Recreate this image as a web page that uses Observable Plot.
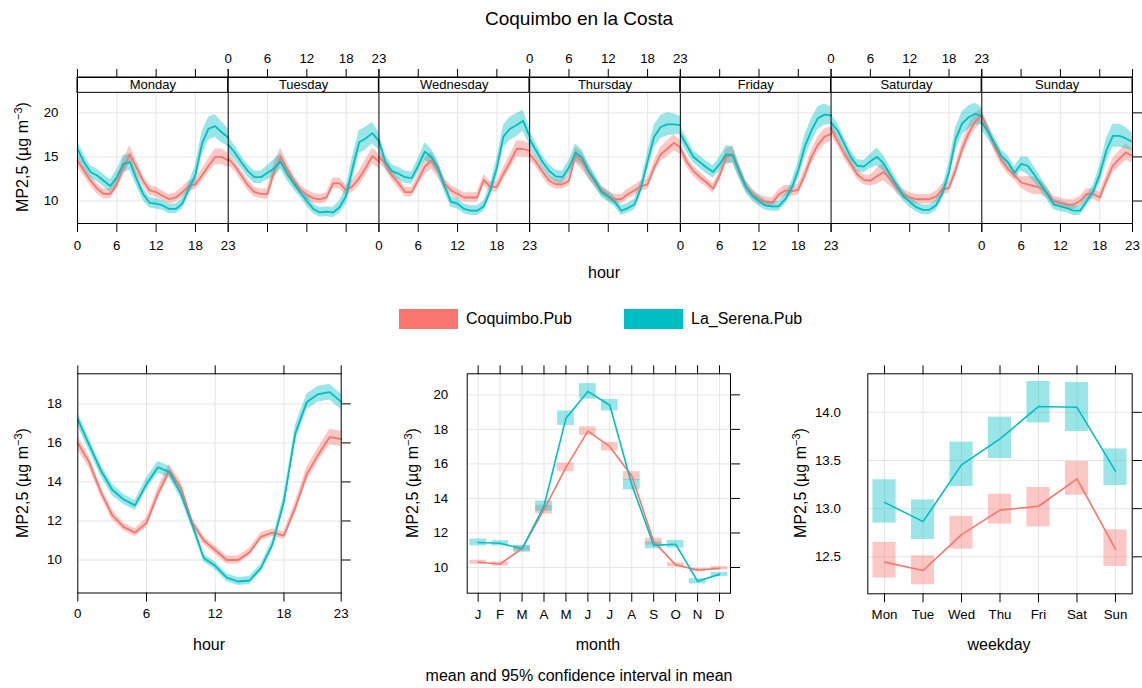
<!DOCTYPE html>
<html><head><meta charset="utf-8">
<script src="https://cdn.jsdelivr.net/npm/d3@7"></script>
<script src="https://cdn.jsdelivr.net/npm/@observablehq/plot@0.6"></script>
<style>
body{margin:0;background:#fff;font-family:"Liberation Sans",Arial,sans-serif;color:#000;}
#root{position:relative;width:1142px;height:688px;overflow:hidden;background:#fff;}
#root svg{position:absolute;}
.t{position:absolute;white-space:nowrap;transform:translate(-50%,-50%);line-height:1;}
.yl{position:absolute;white-space:nowrap;transform:translate(-50%,-50%) rotate(-90deg);font-size:16px;line-height:1;}
.yl sup{font-size:11px;vertical-align:6px;}
.sw{position:absolute;}
</style></head><body><div id="root"></div>
<script>
// ---------- categories / labels ----------
const series = ["Coquimbo.Pub", "La_Serena.Pub"];
const colors = ["#F8766D", "#00BFC4"];
const dayNames = ["Monday", "Tuesday", "Wednesday", "Thursday", "Friday", "Saturday", "Sunday"];
const hourTicks = [0, 6, 12, 18, 23];
const monthLabels = ["J", "F", "M", "A", "M", "J", "J", "A", "S", "O", "N", "D"];
const weekdayLabels = ["Mon", "Tue", "Wed", "Thu", "Fri", "Sat", "Sun"];

// ---------- weekday x hour means (hours 0..23) ----------
const coqMon = [14.6, 13.4, 12.3, 11.4, 10.8, 10.8, 11.9, 13.8, 15.3, 13.8, 12.3, 11.2, 11.0, 10.6, 10.2, 10.4, 11.0, 11.7, 11.9, 12.9, 14.0, 15.0, 15.0, 14.6];
const coqTue = [14.8, 14.0, 12.9, 11.8, 11.0, 10.8, 10.8, 13.4, 15.0, 13.6, 12.3, 11.3, 10.7, 10.3, 10.2, 10.4, 12.0, 12.0, 11.2, 11.7, 12.6, 13.8, 15.1, 14.5];
const coqWed = [15.0, 14.2, 12.9, 12.0, 11.0, 11.0, 12.4, 13.9, 14.6, 13.5, 12.0, 11.2, 10.8, 10.4, 10.4, 10.4, 12.4, 11.6, 11.6, 13.1, 14.4, 15.9, 15.9, 15.7];
const coqThu = [15.3, 14.4, 13.3, 12.3, 11.9, 11.9, 12.3, 15.2, 14.5, 13.3, 12.1, 11.2, 10.6, 10.2, 10.2, 10.8, 11.2, 11.7, 11.9, 13.8, 15.3, 15.9, 16.6, 16.1];
const coqFri = [16.0, 14.4, 13.4, 12.7, 12.1, 11.4, 12.9, 15.0, 15.3, 13.4, 11.7, 10.8, 10.2, 9.9, 9.8, 10.7, 11.2, 11.1, 11.3, 13.0, 15.0, 16.4, 17.3, 17.6];
const coqSat = [18.2, 16.8, 15.4, 14.2, 13.0, 12.4, 12.3, 12.8, 13.3, 12.5, 11.5, 10.8, 10.4, 10.2, 10.2, 10.2, 10.5, 11.3, 11.5, 13.5, 15.9, 17.7, 19.0, 19.7];
const coqSun = [19.7, 18.0, 16.1, 14.6, 13.6, 12.9, 12.1, 11.9, 11.7, 11.5, 10.9, 10.0, 9.8, 9.6, 9.6, 10.0, 10.8, 10.8, 10.4, 12.3, 14.0, 14.8, 15.5, 15.1];
const serMon = [15.9, 14.4, 13.3, 12.9, 12.3, 11.7, 12.7, 14.2, 14.4, 12.5, 10.8, 9.8, 9.7, 9.5, 9.1, 9.1, 9.7, 11.4, 13.0, 16.5, 18.2, 18.5, 17.8, 17.2];
const serTue = [16.4, 15.5, 14.4, 13.4, 12.7, 12.7, 13.2, 13.7, 14.5, 13.1, 12.0, 11.0, 10.0, 9.1, 8.7, 8.8, 8.7, 9.3, 10.6, 13.8, 16.7, 17.1, 17.7, 16.8];
const serWed = [16.8, 14.4, 13.4, 13.1, 12.7, 12.6, 14.0, 15.6, 15.0, 13.8, 11.7, 9.9, 9.7, 9.1, 8.9, 8.9, 9.4, 11.2, 13.8, 17.3, 18.2, 18.6, 19.1, 17.3];
const serThu = [17.0, 15.7, 14.4, 13.4, 12.8, 12.7, 13.8, 15.5, 14.9, 13.4, 12.3, 11.0, 10.5, 9.9, 8.9, 9.2, 9.6, 11.5, 14.5, 17.3, 18.4, 18.7, 18.7, 18.6];
const serFri = [17.6, 16.3, 15.0, 14.4, 13.8, 13.3, 14.2, 15.3, 15.2, 13.3, 11.6, 10.6, 10.0, 9.5, 9.4, 9.4, 10.2, 11.5, 13.5, 16.2, 18.0, 19.4, 19.8, 19.7];
const serSat = [18.9, 18.0, 16.5, 15.0, 14.0, 13.9, 14.5, 15.0, 14.3, 13.0, 11.8, 10.6, 9.9, 9.3, 9.0, 9.0, 9.5, 10.9, 13.3, 17.0, 18.8, 19.5, 19.9, 19.6];
const serSun = [18.9, 17.8, 16.5, 15.1, 14.4, 13.2, 14.2, 14.0, 13.0, 11.9, 10.8, 9.6, 9.4, 9.2, 8.9, 8.9, 10.0, 11.1, 13.0, 15.7, 17.4, 17.4, 17.1, 16.7];
// half width of 95% CI by hour (weekday x hour panel)
const coqDayHourCI = [0.7, 0.6, 0.6, 0.6, 0.55, 0.55, 0.6, 0.9, 1.0, 0.8, 0.6, 0.55, 0.55, 0.55, 0.55, 0.55, 0.6, 0.6, 0.6, 0.7, 0.8, 0.9, 0.9, 0.8];
const serDayHourCI = [0.9, 0.8, 0.7, 0.7, 0.7, 0.7, 0.8, 1.0, 0.9, 0.8, 0.7, 0.6, 0.6, 0.55, 0.55, 0.55, 0.6, 0.7, 1.0, 1.3, 1.3, 1.3, 1.2, 1.0];

// ---------- hour means ----------
const coqHour = [16.0, 15.0, 13.5, 12.3, 11.7, 11.4, 11.9, 13.4, 14.6, 13.7, 11.9, 11.0, 10.5, 10.0, 10.0, 10.4, 11.2, 11.4, 11.25, 12.7, 14.4, 15.4, 16.3, 16.2];
const serHour = [17.2, 15.9, 14.6, 13.6, 13.1, 12.8, 13.9, 14.75, 14.5, 13.4, 11.8, 10.1, 9.7, 9.1, 8.9, 8.95, 9.6, 10.8, 13.0, 16.5, 18.1, 18.5, 18.6, 18.1];
const coqHourCI = [0.35, 0.3, 0.25, 0.25, 0.2, 0.2, 0.25, 0.3, 0.3, 0.3, 0.25, 0.2, 0.2, 0.2, 0.2, 0.2, 0.2, 0.2, 0.2, 0.3, 0.35, 0.35, 0.4, 0.4];
const serHourCI = [0.35, 0.3, 0.3, 0.3, 0.25, 0.25, 0.3, 0.3, 0.3, 0.25, 0.2, 0.2, 0.2, 0.2, 0.2, 0.2, 0.2, 0.25, 0.35, 0.4, 0.4, 0.4, 0.4, 0.4];

// ---------- month means ----------
const coqMonth = [10.3, 10.2, 11.1, 13.35, 15.8, 17.9, 17.0, 15.3, 11.5, 10.15, 9.85, 9.95];
const serMonth = [11.45, 11.4, 11.08, 13.55, 18.65, 20.2, 19.4, 14.8, 11.28, 11.35, 9.2, 9.6];
const coqMonthCI = [0.12, 0.12, 0.15, 0.25, 0.25, 0.25, 0.25, 0.25, 0.2, 0.12, 0.1, 0.1];
const serMonthCI = [0.2, 0.15, 0.2, 0.3, 0.42, 0.45, 0.33, 0.3, 0.2, 0.22, 0.15, 0.12];

// ---------- weekday means ----------
const coqWeekday = [12.445, 12.358, 12.73, 12.985, 13.025, 13.31, 12.58];
const serWeekday = [13.065, 12.865, 13.455, 13.725, 14.06, 14.052, 13.39];
const coqWeekdayLo = [12.28, 12.21, 12.58, 12.84, 12.81, 13.14, 12.40];
const coqWeekdayHi = [12.65, 12.51, 12.92, 13.15, 13.22, 13.49, 12.78];
const serWeekdayLo = [12.85, 12.68, 13.23, 13.52, 13.89, 13.80, 13.24];
const serWeekdayHi = [13.30, 13.09, 13.69, 13.95, 14.32, 14.31, 13.62];

// ---------- build tables ----------
const FONT = '"Liberation Sans", Arial, sans-serif';
const GRID = "#e6e6e6";
const root = document.getElementById("root");
const colorScale = {domain: series, range: colors};
const baseStyle = {fontFamily: FONT, fontSize: "13.3px", background: "transparent", color: "black", overflow: "visible"};

const coqDays = [coqMon, coqTue, coqWed, coqThu, coqFri, coqSat, coqSun];
const serDays = [serMon, serTue, serWed, serThu, serFri, serSat, serSun];
const span = hourTicks[hourTicks.length - 1]; // 23 hours per day panel
const topRows = [];
[[coqDays, coqDayHourCI, series[0]], [serDays, serDayHourCI, series[1]]].forEach(([days, ci, s]) =>
  days.forEach((arr, d) => arr.forEach((v, h) =>
    topRows.push({series: s, key: s + d, pos: d * span + h, v, lo: v - ci[h], hi: v + ci[h]}))));

const hourRows = [];
[[coqHour, coqHourCI, series[0]], [serHour, serHourCI, series[1]]].forEach(([arr, ci, s]) =>
  arr.forEach((v, h) => hourRows.push({series: s, hour: h, v, lo: v - ci[h], hi: v + ci[h]})));

const monthRows = [];
[[coqMonth, coqMonthCI, series[0]], [serMonth, serMonthCI, series[1]]].forEach(([arr, ci, s]) =>
  arr.forEach((v, i) => monthRows.push({series: s, m: i + 1, v, lo: v - ci[i], hi: v + ci[i]})));

const wdRows = [];
[[coqWeekday, coqWeekdayLo, coqWeekdayHi, series[0]], [serWeekday, serWeekdayLo, serWeekdayHi, series[1]]].forEach(([arr, lo, hi, s]) =>
  arr.forEach((v, i) => wdRows.push({series: s, d: i + 1, v, lo: lo[i], hi: hi[i]})));

function place(svg, left, top) { svg.style.left = left + "px"; svg.style.top = top + "px"; root.appendChild(svg); }
const blank = () => "";

// ---------- top panel: weekday x hour ----------
{
  const yDom = [7.45, 24.01], stripBottom = 22.27;
  const botLab = new Map(), topLab = new Map(), botPlain = [], topPlain = [], gridPos = [];
  dayNames.forEach((_, d) => hourTicks.forEach(h => {
    const p = d * span + h;
    if (d % 2 === 0) { botLab.set(p, String(h)); topPlain.push(p); }
    else { topLab.set(p, String(h)); botPlain.push(p); }
    if (h !== 0 && h !== span) gridPos.push(p);
  }));
  const svg = Plot.plot({
    width: 1142, height: 260, marginLeft: 77, marginRight: 10, marginTop: 77, marginBottom: 37,
    x: {domain: [0, span * dayNames.length]}, y: {domain: yDom},
    color: colorScale, style: baseStyle,
    marks: [
      Plot.gridY([10, 15, 20], {stroke: GRID, strokeOpacity: 1}),
      Plot.ruleX(gridPos, {y1: yDom[0], y2: stripBottom, stroke: GRID, strokeOpacity: 1}),
      Plot.areaY(topRows, {x: "pos", y1: "lo", y2: "hi", z: "key", fill: "series", fillOpacity: 0.4}),
      Plot.lineY(topRows, {x: "pos", y: "v", z: "key", stroke: "series", strokeWidth: 1.8}),
      Plot.rect(dayNames, {x1: (d, i) => i * span, x2: (d, i) => (i + 1) * span, y1: stripBottom, y2: yDom[1], fill: "white", stroke: "black"}),
      Plot.text(dayNames, {x: (d, i) => (i + 0.5) * span, y: (stripBottom + yDom[1]) / 2, text: d => d, fontSize: 13}),
      Plot.ruleX(dayNames.slice(1), {x: (d, i) => (i + 1) * span, stroke: "black"}),
      Plot.frame({stroke: "black"}),
      Plot.axisX([...botLab.keys()], {anchor: "bottom", tickSize: 9, tickPadding: 8, tickFormat: v => botLab.get(v), label: null}),
      Plot.axisX(botPlain, {anchor: "bottom", tickSize: 9, tickFormat: blank, label: null}),
      Plot.axisX([...topLab.keys()], {anchor: "top", tickSize: 9, tickPadding: 6, tickFormat: v => topLab.get(v), label: null}),
      Plot.axisX(topPlain, {anchor: "top", tickSize: 9, tickFormat: blank, label: null}),
      Plot.axisY([10, 15, 20], {anchor: "left", tickSize: 0, tickPadding: 19, label: null}),
      Plot.axisY([10, 15, 20], {anchor: "right", tickSize: 9, tickFormat: blank, label: null})
    ]
  });
  place(svg, 0, 0);
}

// ---------- bottom-left: hour ----------
{
  const yTicks = [10, 12, 14, 16, 18];
  const svg = Plot.plot({
    width: 360, height: 290, marginLeft: 77.3, marginRight: 19.3, marginTop: 18.3, marginBottom: 52.5,
    x: {domain: [0, 23]}, y: {domain: [8.31, 19.54]},
    color: colorScale, style: baseStyle,
    marks: [
      Plot.gridX([6, 12, 18], {stroke: GRID, strokeOpacity: 1}),
      Plot.gridY(yTicks, {stroke: GRID, strokeOpacity: 1}),
      Plot.areaY(hourRows, {x: "hour", y1: "lo", y2: "hi", z: "series", fill: "series", fillOpacity: 0.4}),
      Plot.lineY(hourRows, {x: "hour", y: "v", z: "series", stroke: "series", strokeWidth: 1.8}),
      Plot.frame({stroke: "black"}),
      Plot.axisX(hourTicks, {anchor: "bottom", tickSize: 9, tickPadding: 7, label: null}),
      Plot.axisX(hourTicks, {anchor: "top", tickSize: 9, tickFormat: blank, label: null}),
      Plot.axisY(yTicks, {anchor: "left", tickSize: 0, tickPadding: 16, label: null}),
      Plot.axisY(yTicks, {anchor: "right", tickSize: 9, tickFormat: blank, label: null})
    ]
  });
  place(svg, 0, 355);
}

// ---------- bottom-middle: month ----------
{
  const yTicks = [10, 12, 14, 16, 18, 20];
  const mTicks = monthLabels.map((_, i) => i + 1);
  const svg = Plot.plot({
    width: 380, height: 290, marginLeft: 86.7, marginRight: 30, marginTop: 18.3, marginBottom: 52.3,
    x: {domain: [0.5, 12.5]}, y: {domain: [8.51, 21.22]},
    color: colorScale, style: baseStyle,
    marks: [
      Plot.gridX(mTicks, {stroke: GRID, strokeOpacity: 1}),
      Plot.gridY(yTicks, {stroke: GRID, strokeOpacity: 1}),
      Plot.rect(monthRows, {x1: d => d.m - 0.38, x2: d => d.m + 0.38, y1: "lo", y2: "hi", fill: "series", fillOpacity: 0.4}),
      Plot.lineY(monthRows, {x: "m", y: "v", z: "series", stroke: "series", strokeWidth: 1.6}),
      Plot.frame({stroke: "black"}),
      Plot.axisX(mTicks, {anchor: "bottom", tickSize: 9, tickPadding: 7, tickFormat: v => monthLabels[v - 1], label: null}),
      Plot.axisX(mTicks, {anchor: "top", tickSize: 9, tickFormat: blank, label: null}),
      Plot.axisY(yTicks, {anchor: "left", tickSize: 0, tickPadding: 19, label: null}),
      Plot.axisY(yTicks, {anchor: "right", tickSize: 9, tickFormat: blank, label: null})
    ]
  });
  place(svg, 380, 355);
}

// ---------- bottom-right: weekday ----------
{
  const yTicks = [12.5, 13.0, 13.5, 14.0];
  const dTicks = weekdayLabels.map((_, i) => i + 1);
  const svg = Plot.plot({
    width: 382, height: 290, marginLeft: 107.3, marginRight: 10.3, marginTop: 18.3, marginBottom: 51.7,
    x: {domain: [0.565, 7.435]}, y: {domain: [12.116, 14.40]},
    color: colorScale, style: baseStyle,
    marks: [
      Plot.gridX(dTicks, {stroke: GRID, strokeOpacity: 1}),
      Plot.gridY(yTicks, {stroke: GRID, strokeOpacity: 1}),
      Plot.rect(wdRows, {x1: d => d.d - 0.3, x2: d => d.d + 0.3, y1: "lo", y2: "hi", fill: "series", fillOpacity: 0.4}),
      Plot.lineY(wdRows, {x: "d", y: "v", z: "series", stroke: "series", strokeWidth: 1.6}),
      Plot.frame({stroke: "black"}),
      Plot.axisX(dTicks, {anchor: "bottom", tickSize: 9, tickPadding: 7, tickFormat: v => weekdayLabels[v - 1], label: null}),
      Plot.axisX(dTicks, {anchor: "top", tickSize: 9, tickFormat: blank, label: null}),
      Plot.axisY(yTicks, {anchor: "left", tickSize: 0, tickPadding: 27, tickFormat: d3.format(".1f"), label: null}),
      Plot.axisY(yTicks, {anchor: "right", tickSize: 9, tickFormat: blank, label: null})
    ]
  });
  place(svg, 760, 355);
}

// ---------- HTML text: title, axis titles, legend, caption ----------
function txt(html, x, y, size, cls = "t") {
  const el = document.createElement("div");
  el.className = cls; el.innerHTML = html;
  el.style.left = x + "px"; el.style.top = y + "px";
  if (size) el.style.fontSize = size + "px";
  root.appendChild(el); return el;
}
const yTitle = 'MP2,5 (µg m<sup>−3</sup>)';
txt("Coquimbo en la Costa", 579, 18, 19);
txt("hour", 604, 273, 16);
txt(yTitle, 22, 157, null, "yl");
txt(yTitle, 22, 483, null, "yl");
txt(yTitle, 412, 483, null, "yl");
txt(yTitle, 800, 483, null, "yl");
txt("hour", 209, 645, 16);
txt("month", 598, 645, 16);
txt("weekday", 999, 645, 16);
txt("mean and 95% confidence interval in mean", 579, 676, 16);

// legend
const legendX = [399, 624];
series.forEach((s, i) => {
  const sw = document.createElement("div");
  sw.className = "sw";
  Object.assign(sw.style, {left: legendX[i] + "px", top: "309px", width: "59px", height: "20px", background: colors[i]});
  root.appendChild(sw);
  const t = txt(s, legendX[i] + 67, 319, 16);
  t.style.transform = "translate(0,-50%)";
});
</script></body></html>
